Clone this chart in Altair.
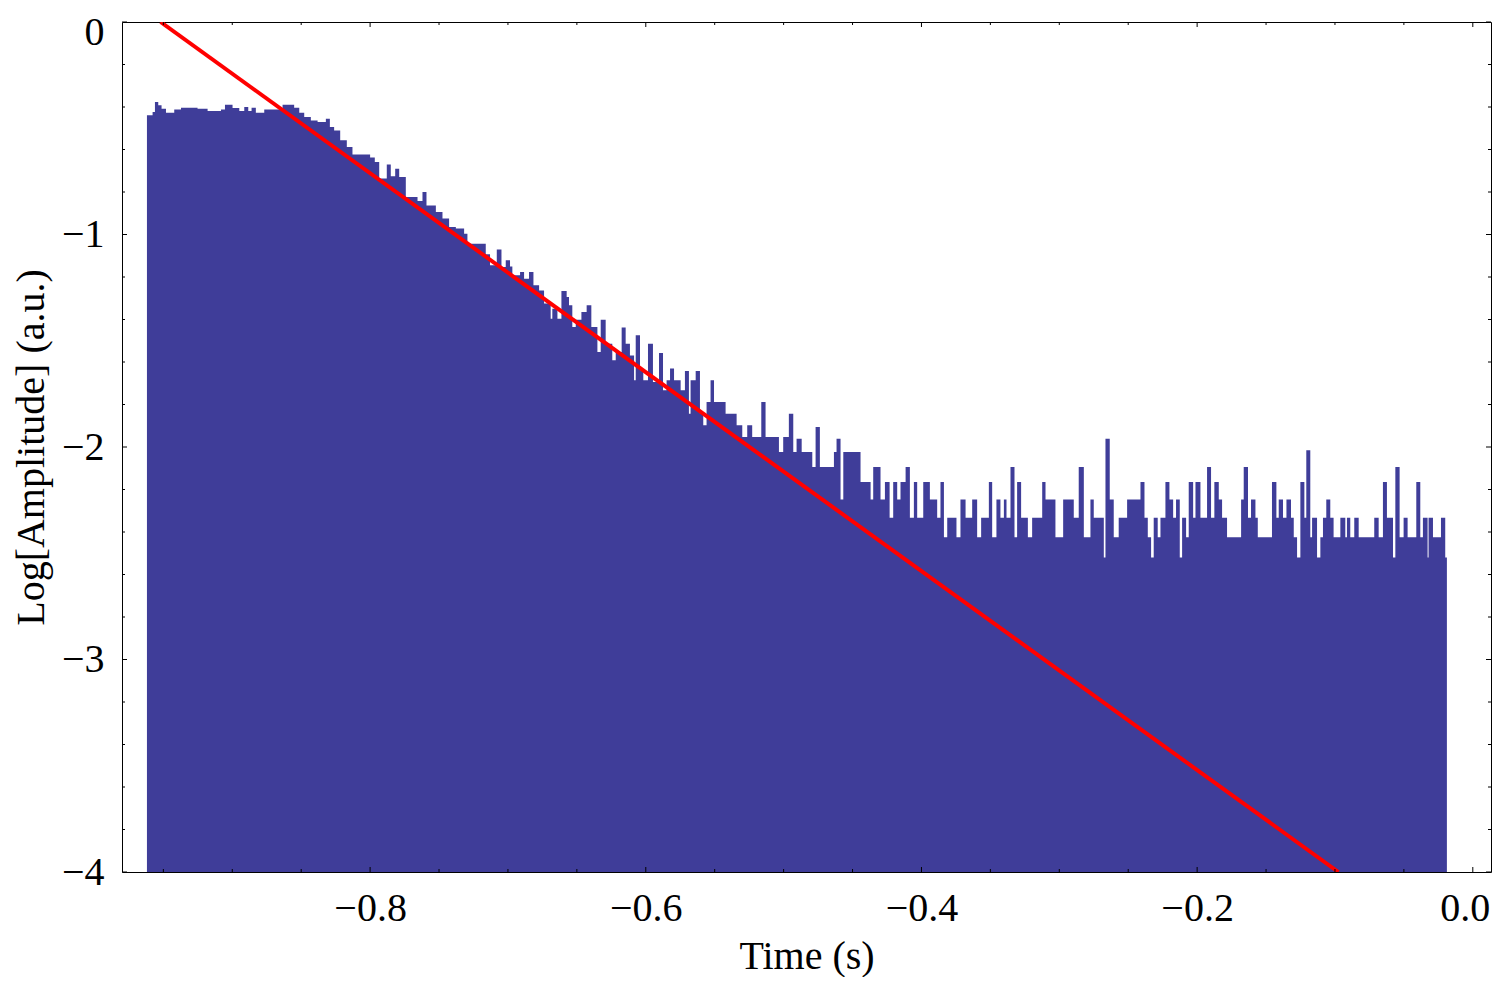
import altair as alt
import pandas as pd

# ---------------- data ----------------
# step signal: start time of each step (s) and its Log[Amplitude] level
seg_start = [
    -0.9619, -0.9578, -0.9561, -0.9537, -0.9513, -0.9481, -0.9421, -0.9372, -0.9252, -0.9179,
    -0.9082, -0.9053, -0.8998, -0.8949, -0.8913, -0.8884, -0.8860, -0.8829, -0.8768, -0.8635,
    -0.8551, -0.8514, -0.8478, -0.8430, -0.8381, -0.8321, -0.8292, -0.8261, -0.8217, -0.8169,
    -0.8128, -0.8000, -0.7966, -0.7934, -0.7879, -0.7850, -0.7818, -0.7789, -0.7741, -0.7656,
    -0.7620, -0.7591, -0.7523, -0.7475, -0.7427, -0.7378, -0.7318,
    -0.7294, -0.7161, -0.7130, -0.7081, -0.7047, -0.7016, -0.6985, -0.6968, -0.6912, -0.6883,
    -0.6847, -0.6815, -0.6774, -0.6738, -0.6690, -0.6678, -0.6641, -0.6612, -0.6574, -0.6557,
    -0.6533, -0.6508, -0.6467, -0.6429, -0.6395, -0.6351, -0.6327, -0.6291, -0.6243, -0.6218,
    -0.6175, -0.6146, -0.6115, -0.6085, -0.6073, -0.6042, -0.6018, -0.5984, -0.5948, -0.5904,
    -0.5875, -0.5849, -0.5824, -0.5795, -0.5747, -0.5716, -0.5687, -0.5675, -0.5638, -0.5607,
    -0.5583, -0.5559, -0.5530, -0.5505, -0.5421, -0.5341, -0.5300, -0.5264, -0.5228, -0.5162,
    -0.5131, -0.5034, -0.5003, -0.4962,
    -0.4930, -0.4906, -0.4869, -0.4792, -0.4768, -0.4737, -0.4635, -0.4616, -0.4587, -0.4567,
    -0.4442, -0.4369, -0.4350, -0.4297, -0.4265, -0.4231, -0.4205, -0.4176, -0.4152, -0.4115,
    -0.4084, -0.4055, -0.4031, -0.3987, -0.3939, -0.3886, -0.3862, -0.3837, -0.3813, -0.3746,
    -0.3717, -0.3680, -0.3632, -0.3596, -0.3567, -0.3511, -0.3487, -0.3456, -0.3427, -0.3402,
    -0.3383, -0.3354, -0.3325, -0.3306, -0.3277, -0.3228, -0.3197, -0.3124, -0.3100, -0.3028,
    -0.2972, -0.2895, -0.2859, -0.2822, -0.2774, -0.2750, -0.2677, -0.2665, -0.2634, -0.2605,
    -0.2569,
    -0.2508, -0.2411, -0.2382, -0.2358, -0.2334, -0.2315, -0.2286, -0.2266, -0.2230, -0.2201,
    -0.2174, -0.2153, -0.2126, -0.2109, -0.2080, -0.2061, -0.2029, -0.2012, -0.1976, -0.1928,
    -0.1899, -0.1875, -0.1843, -0.1819, -0.1783, -0.1681, -0.1662, -0.1631, -0.1609, -0.1577,
    -0.1560, -0.1457, -0.1425, -0.1408, -0.1377, -0.1352, -0.1319, -0.1299, -0.1275, -0.1251,
    -0.1222, -0.1208, -0.1179, -0.1166, -0.1130, -0.1106, -0.1087, -0.1063, -0.1034, -0.1010,
    -0.0961, -0.0925, -0.0913, -0.0889, -0.0860, -0.0828, -0.0715, -0.0683, -0.0652, -0.0623,
    -0.0579, -0.0562, -0.0531, -0.0502, -0.0473, -0.0410, -0.0381, -0.0362, -0.0328, -0.0321,
    -0.0289, -0.0231, -0.0200,
]
seg_value = [
    -0.439, -0.423, -0.376, -0.392, -0.408, -0.427, -0.412, -0.403, -0.408, -0.419,
    -0.412, -0.389, -0.405, -0.419, -0.400, -0.419, -0.403, -0.427, -0.412, -0.389,
    -0.403, -0.427, -0.447, -0.463, -0.470, -0.455, -0.494, -0.510, -0.557, -0.588,
    -0.623, -0.638, -0.659, -0.737, -0.671, -0.726, -0.690, -0.729, -0.823, -0.842,
    -0.800, -0.864, -0.894, -0.925, -0.965, -0.972, -0.996,
    -1.043, -1.093, -1.145, -1.071, -1.153, -1.121, -1.150, -1.192, -1.176, -1.208,
    -1.176, -1.239, -1.263, -1.325, -1.396, -1.349, -1.396, -1.266, -1.294, -1.333,
    -1.435, -1.401, -1.365, -1.333, -1.435, -1.553, -1.401, -1.514, -1.592, -1.553,
    -1.438, -1.514, -1.569, -1.686, -1.474, -1.639, -1.686, -1.514, -1.694, -1.558,
    -1.733, -1.686, -1.631, -1.686, -1.733, -1.642, -1.843, -1.686, -1.642, -1.843,
    -1.898, -1.788, -1.686, -1.788, -1.843, -1.898, -1.953, -1.898, -1.953, -1.788,
    -1.953, -2.023, -1.953, -1.843,
    -2.023, -1.961, -2.023, -2.094, -1.906, -2.094, -2.023, -1.961, -2.247, -2.023,
    -2.165, -2.247, -2.094, -2.247, -2.165, -2.333, -2.165, -2.247, -2.165, -2.094,
    -2.333, -2.165, -2.333, -2.165, -2.247, -2.333, -2.165, -2.425, -2.333, -2.425,
    -2.247, -2.333, -2.247, -2.425, -2.333, -2.165, -2.425, -2.247, -2.333, -2.247,
    -2.333, -2.094, -2.425, -2.165, -2.333, -2.425, -2.333, -2.165, -2.247, -2.425,
    -2.247, -2.333, -2.094, -2.425, -2.247, -2.333, -2.520, -1.961, -2.247, -2.425,
    -2.333,
    -2.247, -2.165, -2.333, -2.425, -2.520, -2.333, -2.425, -2.333, -2.165, -2.247,
    -2.333, -2.247, -2.520, -2.333, -2.425, -2.165, -2.333, -2.165, -2.333, -2.094,
    -2.333, -2.165, -2.247, -2.333, -2.425, -2.247, -2.094, -2.333, -2.247, -2.333,
    -2.425, -2.165, -2.333, -2.247, -2.333, -2.247, -2.333, -2.425, -2.520, -2.165,
    -2.333, -2.015, -2.425, -2.333, -2.520, -2.425, -2.333, -2.247, -2.333, -2.425,
    -2.333, -2.425, -2.333, -2.425, -2.333, -2.425, -2.333, -2.425, -2.165, -2.333,
    -2.520, -2.094, -2.425, -2.333, -2.425, -2.165, -2.425, -2.333, -2.520, -2.333,
    -2.425, -2.333, -2.520,
]
seg_end = -0.0188

# fitted exponential decay (straight line in log scale)
fit_time = [-0.952, -0.0975]
fit_value = [0.0, -4.0]

x_major = [-0.8, -0.6, -0.4, -0.2, 0.0]
x_minor = [-0.95, -0.9, -0.85, -0.75, -0.7, -0.65, -0.55, -0.5, -0.45,
           -0.35, -0.3, -0.25, -0.15, -0.1, -0.05]
y_major = [0, -1, -2, -3, -4]
y_minor = [-0.2, -0.4, -0.6, -0.8, -1.2, -1.4, -1.6, -1.8, -2.2, -2.4, -2.6, -2.8,
           -3.2, -3.4, -3.6, -3.8]

x_domain = [-0.98, 0.0132]
y_domain = [-4, 0]

# ---------------- styling ----------------
W, H = 1369, 850
SERIF = "Liberation Serif"
BLUE = "#3f3d99"
RED = "#ff0000"
MAJ, MIN = 5, 3

sig = pd.DataFrame({"t": seg_start + [seg_end], "v": seg_value + [seg_value[-1]]})
fit = pd.DataFrame({"t": fit_time, "v": fit_value})

xs = alt.Scale(domain=x_domain, nice=False, zero=False)
ys = alt.Scale(domain=y_domain, nice=False, zero=False)

x_axis = alt.Axis(
    values=x_major, format=".1f", ticks=False, tickSize=0, domain=False, grid=False,
    labelFont=SERIF, labelFontSize=40, labelColor="black", labelPadding=16,
    labelFlush=False, labelOverlap=False,
    labelOffset={"condition": {"test": "datum.value == 0", "value": -8}, "value": 0},
    title="Time (s)", titleFont=SERIF, titleFontSize=40, titleFontWeight="normal",
    titleColor="black", titleBaseline="alphabetic", titleY=96,
)
y_axis = alt.Axis(
    values=y_major, format="d", ticks=False, tickSize=0, domain=False, grid=False,
    labelFont=SERIF, labelFontSize=40, labelColor="black", labelPadding=18,
    labelFlush=False, labelOverlap=False,
    labelOffset={"condition": {"test": "datum.value == 0", "value": 10}, "value": 0},
    title="Log[Amplitude] (a.u.)", titleFont=SERIF, titleFontSize=40,
    titleFontWeight="normal", titleColor="black", titleBaseline="alphabetic",
    titleAngle=270, titleAlign="center", titleX=-79, titleY=H / 2,
)

X = lambda f: alt.X(f, type="quantitative", scale=xs, axis=x_axis)
Y = lambda f: alt.Y(f, type="quantitative", scale=ys, axis=y_axis)

area = alt.Chart(sig).mark_area(interpolate="step-after", color=BLUE, clip=True).encode(
    x=X("t"), y=Y("v"), y2=alt.datum(-4)
)
line = alt.Chart(fit).mark_line(color=RED, strokeWidth=4, clip=True).encode(
    x=X("t"), y=Y("v")
)

def xticks(vals, length):
    d = pd.DataFrame({"tick": vals})
    bottom = alt.Chart(d).mark_rule(color="black", strokeWidth=1).encode(
        x=X("tick"), y=alt.value(H), y2=alt.value(H - length))
    top = alt.Chart(d).mark_rule(color="black", strokeWidth=1).encode(
        x=X("tick"), y=alt.value(0), y2=alt.value(length))
    return [bottom, top]

def yticks(vals, length):
    d = pd.DataFrame({"tick": vals})
    left = alt.Chart(d).mark_rule(color="black", strokeWidth=1).encode(
        y=Y("tick"), x=alt.value(0), x2=alt.value(length))
    right = alt.Chart(d).mark_rule(color="black", strokeWidth=1).encode(
        y=Y("tick"), x=alt.value(W), x2=alt.value(W - length))
    return [left, right]

layers = [area, line] + xticks(x_major, MAJ) + xticks(x_minor, MIN) + yticks(y_major, MAJ) + yticks(y_minor, MIN)

chart = alt.layer(*layers).properties(
    width=W, height=H,
    padding={"left": 114, "top": 14, "right": 1, "bottom": 105},
    autosize=alt.AutoSizeParams(type="none"),
    background="white",
).configure_view(stroke="black", strokeWidth=1)

chart.save("out.html", embed_options={"renderer": "svg", "actions": False})
